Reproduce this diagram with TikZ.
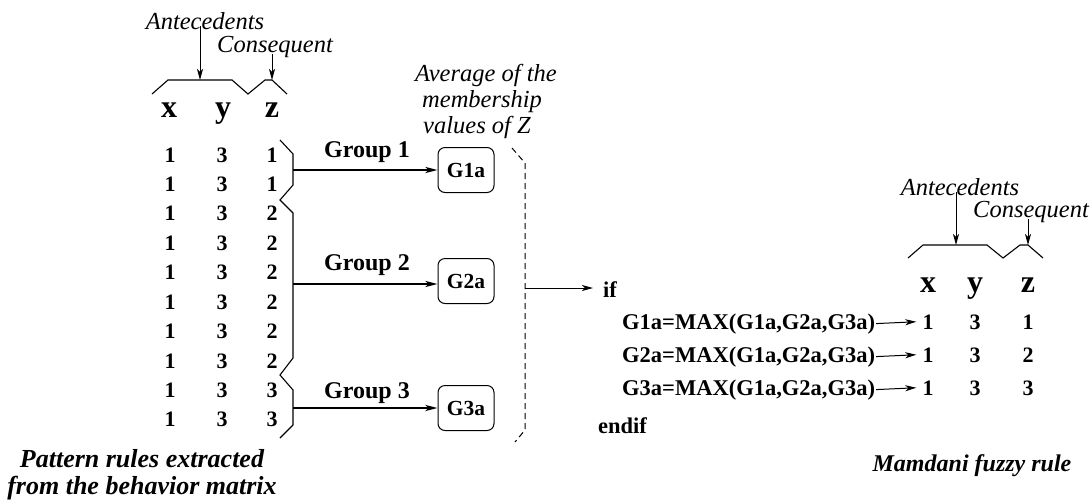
\documentclass[tikz,border=0pt]{standalone}
\usepackage{fontspec}
\setmainfont{Liberation Serif}
\usetikzlibrary{arrows.meta}

\begin{document}
\begin{tikzpicture}[x=1pt,y=-1pt,
  num/.style={font=\fontsize{22}{24}\selectfont\bfseries, inner sep=0pt, anchor=base},
  hdr/.style={font=\fontsize{32}{36}\selectfont\bfseries, inner sep=0pt, anchor=base},
  lbl/.style={font=\fontsize{24.5}{27}\selectfont\itshape, inner sep=0pt, anchor=base},
  lblw/.style={lbl, anchor=base west},
  capt/.style={font=\fontsize{26}{27}\selectfont\bfseries\itshape, inner sep=0pt,
    align=center, anchor=base},
  grp/.style={font=\fontsize{24}{26}\selectfont\bfseries, inner sep=0pt, anchor=base},
  code/.style={font=\fontsize{22.5}{24}\selectfont\bfseries, inner sep=0pt, anchor=base west},
  gbox/.style={draw, rounded corners=7pt, line width=1pt, minimum width=56pt,
    minimum height=45pt, inner sep=0pt, font=\fontsize{21.5}{23}\selectfont\bfseries},
  brace/.style={line width=1.1pt},
  flow/.style={line width=1.9pt, -{Stealth[length=12pt,width=6pt,inset=3pt]}},
  pointer/.style={line width=1pt, -{Stealth[length=11pt,width=6pt,inset=3pt]}},
]
\useasboundingbox (0,0) rectangle (1091,501);

% ---------- left table: pattern rules ----------
\node[lbl] (antL) at (205,29) {Antecedents};
\node[lbl] (conL) at (275,52) {Consequent};
\draw[brace] (152,94) -- (168,80) -- (232,80) -- (248,94) -- (265,80) -- (272,80) -- (287,94);
\coordinate (bAL) at (200,80);
\coordinate (bCL) at (272,80);
\draw[pointer] ([yshift=3pt]antL.south -| bAL) -- (bAL);
\draw[pointer] ([yshift=3pt]conL.south -| bCL) -- (bCL);

\node[hdr] (hxL) at (169,117) {x};
\node[hdr] (hyL) at (223,117) {y};
\node[hdr] (hzL) at (272,117) {z};

\foreach \z [count=\i from 0] in {1,1,2,2,2,2,2,2,3,3}{
  \node[num] (rx\i) at (170,162+29.44*\i) {1};
  \node[num] (ry\i) at (222,162+29.44*\i) {3};
  \node[num] (rz\i) at (272,162+29.44*\i) {\z};
}

% zig-zag brace splitting the rows into groups
\draw[brace] (280,140) -- (293,154) -- (293,185) -- (280,200) -- (293,213)
  -- (293,358) -- (280,375) -- (293,390) -- (293,425) -- (280,438);
\coordinate (t1) at (293,170);
\coordinate (t2) at (293,284);
\coordinate (t3) at (293,408);

% ---------- group averages ----------
\node[gbox] (g1) at (466,170) {G1a};
\node[gbox] (g2) at (466,281) {G2a};
\node[gbox] (g3) at (466,408) {G3a};

\draw[flow] (t1) -- (t1 -| g1.west);
\draw[flow] (t2) -- (t2 -| g2.west);
\draw[flow] (t3) -- (t3 -| g3.west);

\node[grp] (lg1) at (367,157) {Group 1};
\node[grp] (lg2) at (367,270) {Group 2};
\node[grp] (lg3) at (367,398) {Group 3};

\node[lblw] (avg1) at (415,81) {Average of the};
\node[lblw] (avg2) at (422,107) {membership};
\node[lblw] (avg3) at (423,133) {values of \textit{Z}};

% dashed bracket collecting the averages
\draw[line width=1pt, dash pattern=on 6pt off 4pt]
  (512,148) -- (525,163) -- (525,430) -- (515,442);
\coordinate (dmid) at (525,288);

% ---------- Mamdani rule ----------
\node[code] (ifn) at (603,297) {if};
\draw[pointer] (dmid) -- ([xshift=-10pt]ifn.west |- dmid);

\node[code] (m1) at (622,329) {G1a=MAX(G1a,G2a,G3a)};
\node[code] (m2) at (622,362) {G2a=MAX(G1a,G2a,G3a)};
\node[code] (m3) at (622,395) {G3a=MAX(G1a,G2a,G3a)};
\node[code] (endif) at (598,433) {endif};

\node[lbl] (antR) at (960,195) {Antecedents};
\node[lbl] (conR) at (1031,217) {Consequent};
\draw[brace] (908,258) -- (923,245) -- (987,245) -- (1003,258) -- (1020,245) -- (1028,245) -- (1043,258);
\coordinate (bAR) at (956,245);
\coordinate (bCR) at (1028,245);
\draw[pointer] ([yshift=3pt]antR.south -| bAR) -- (bAR);
\draw[pointer] ([yshift=3pt]conR.south -| bCR) -- (bCR);

\node[hdr] (hxR) at (928,292) {x};
\node[hdr] (hyR) at (975,292) {y};
\node[hdr] (hzR) at (1028,292) {z};

\foreach \z/\b [count=\i] in {1/329,2/362,3/395}{
  \node[num] (sx\i) at (928,\b) {1};
  \node[num] (sy\i) at (975,\b) {3};
  \node[num] (sz\i) at (1028,\b) {\z};
  \draw[pointer] ([xshift=1pt]m\i.east) -- ([xshift=-6pt]sx\i.west);
}

% ---------- captions ----------
\node[capt] (capL) at (142,494) {Pattern rules extracted\\from the behavior matrix};
\node[capt, font=\fontsize{24}{26}\selectfont\bfseries\itshape] (capR) at (972,471) {Mamdani fuzzy rule};
\end{tikzpicture}
\end{document}
